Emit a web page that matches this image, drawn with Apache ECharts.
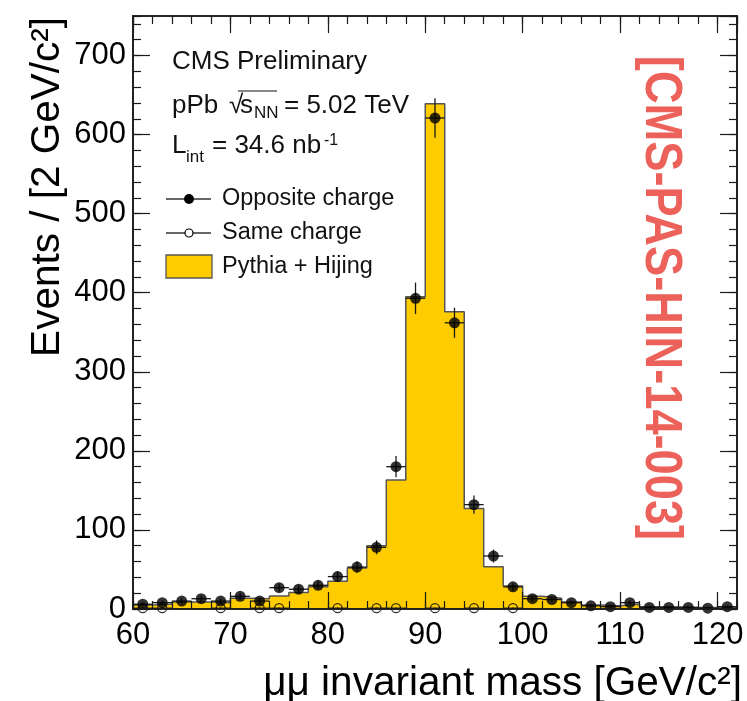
<!DOCTYPE html>
<html>
<head>
<meta charset="utf-8">
<script src="https://cdn.jsdelivr.net/npm/echarts@6/dist/echarts.min.js"></script>
<style>
  html, body { margin: 0; padding: 0; background: #fff; }
  #chart { width: 747px; height: 701px; }
</style>
</head>
<body>
<div id="chart"></div>
<script>
// Dimuon invariant-mass spectrum, 2 GeV/c^2 bins from 60 to 122 GeV/c^2.
const binWidth = 2;
const massBins = [61, 63, 65, 67, 69, 71, 73, 75, 77, 79, 81, 83, 85, 87, 89, 91,
                  93, 95, 97, 99, 101, 103, 105, 107, 109, 111, 113, 115, 117, 119, 121];

// Pythia + Hijing simulation (filled histogram)
const simValues = [5, 6, 9, 9, 8, 13.5, 13, 16.5, 21, 28, 35, 52, 80, 163, 395, 639,
                   376, 127, 53.5, 29, 16, 13.5, 9, 5, 4, 6, 3, 2.5, 2, 2, 2];

// Opposite-charge dimuon pairs (data)
const oppositeCharge = [6, 8, 10, 13, 10, 16, 10, 27, 25, 30, 41, 53, 78, 180, 393, 621,
                        362, 132, 67, 28, 13, 12, 8, 4, 3, 8, 2, 2, 2, 1, 3];

// Same-charge dimuon pairs (data); empty bins are not drawn
const sameCharge = [1, 1, 0, 0, 1, 0, 1, 1, 0, 0, 1, 0, 1, 1, 0, 1,
                    0, 1, 0, 1, 0, 0, 0, 0, 0, 0, 0, 0, 0, 0, 0];

const xTickLabels = [60, 70, 80, 90, 100, 110, 120];
const yTickLabels = [0, 100, 200, 300, 400, 500, 600, 700];

const xRange = [60, 122];
const yRange = [0, 750];

const FONT = "'Liberation Sans', Arial, Helvetica, sans-serif";
const INK = '#1a1a1a';
const FILL = '#ffcc00';

// Step outline of the simulated histogram, closed down to zero at both ends
function histogramPoints() {
  const pts = [[massBins[0] - binWidth / 2, 0]];
  massBins.forEach((c, i) => pts.push([c - binWidth / 2, simValues[i]]));
  const lastEdge = massBins[massBins.length - 1] + binWidth / 2;
  pts.push([lastEdge, simValues[simValues.length - 1]]);
  pts.push([lastEdge, 0]);
  return pts;
}

// Points with Poisson (sqrt N) uncertainty; zero bins skipped
function pointData(values) {
  return massBins
    .map((c, i) => [c, values[i], Math.sqrt(values[i])])
    .filter(d => d[1] > 0);
}

function errorBars(values, z) {
  return {
    type: 'custom',
    xAxisIndex: 0, yAxisIndex: 0,
    z: z,
    silent: true,
    data: pointData(values),
    encode: { x: 0, y: 1 },
    renderItem(params, api) {
      const x = api.value(0), y = api.value(1), e = api.value(2);
      const c = api.coord([x, y]);
      const l = api.coord([x - binWidth / 2, y]);
      const r = api.coord([x + binWidth / 2, y]);
      const t = api.coord([x, y + e]);
      const b = api.coord([x, Math.max(y - e, 0)]);
      const st = { stroke: INK, lineWidth: 1.3 };
      return {
        type: 'group',
        children: [
          { type: 'line', shape: { x1: l[0], y1: c[1], x2: r[0], y2: c[1] }, style: st },
          { type: 'line', shape: { x1: c[0], y1: t[1], x2: c[0], y2: b[1] }, style: st }
        ]
      };
    }
  };
}

function xAxis(position, interval, tickLen, showLabel) {
  return {
    type: 'value', position, min: xRange[0], max: xRange[1], interval, z: 10,
    axisLine: { show: true, onZero: false, lineStyle: { color: INK, width: 1.6 } },
    axisTick: { show: true, inside: true, length: tickLen, lineStyle: { color: INK, width: 1.2 } },
    axisLabel: {
      show: showLabel, showMaxLabel: false, margin: 11,
      fontFamily: FONT, fontSize: 31, color: '#000',
      formatter: v => (xTickLabels.includes(v) ? String(v) : '')
    },
    splitLine: { show: false }
  };
}

function yAxis(position, interval, tickLen, showLabel) {
  return {
    type: 'value', position, min: yRange[0], max: yRange[1], interval, z: 10,
    axisLine: { show: true, onZero: false, lineStyle: { color: INK, width: 1.6 } },
    axisTick: { show: true, inside: true, length: tickLen, lineStyle: { color: INK, width: 1.2 } },
    axisLabel: {
      show: showLabel, showMaxLabel: false, margin: 7,
      fontFamily: FONT, fontSize: 31, color: '#000',
      formatter: v => (yTickLabels.includes(v) ? String(v) : '')
    },
    splitLine: { show: false }
  };
}

// Plain text element; `opts` may carry transform props and style overrides
function txt(x, y, text, size, opts) {
  const o = opts || {};
  const el = {
    type: 'text', x, y, z: 20,
    style: Object.assign({
      text, fontFamily: FONT, fontSize: size, fill: '#111',
      align: 'left', verticalAlign: 'middle'
    }, o.style || {})
  };
  ['rotation', 'scaleX', 'scaleY'].forEach(k => { if (o[k] !== undefined) el[k] = o[k]; });
  return el;
}

const chart = echarts.init(document.getElementById('chart'), null, { renderer: 'canvas' });

chart.setOption({
  animation: false,
  backgroundColor: '#fff',
  grid: { left: 133, top: 16, width: 604, height: 593, containLabel: false, outerBoundsMode: 'none' },
  xAxis: [
    xAxis('bottom', 10, 17, true),
    xAxis('bottom', 2, 8, false),
    xAxis('top', 10, 17, false),
    xAxis('top', 2, 8, false)
  ],
  yAxis: [
    yAxis('left', 100, 17, true),
    yAxis('left', 20, 8, false),
    yAxis('right', 100, 17, false),
    yAxis('right', 20, 8, false)
  ],
  series: [
    {
      name: 'Pythia + Hijing',
      type: 'line', step: 'end',
      xAxisIndex: 0, yAxisIndex: 0,
      data: histogramPoints(),
      symbol: 'none', z: 2,
      lineStyle: { color: '#555', width: 1.5 },
      areaStyle: { color: FILL, opacity: 1 }
    },
    errorBars(oppositeCharge, 4),
    errorBars(sameCharge, 4),
    {
      name: 'Opposite charge',
      type: 'scatter', xAxisIndex: 0, yAxisIndex: 0, z: 5,
      data: pointData(oppositeCharge).map(d => [d[0], d[1]]),
      symbol: 'circle', symbolSize: 11,
      itemStyle: { color: '#000' }
    },
    {
      name: 'Same charge',
      type: 'scatter', xAxisIndex: 0, yAxisIndex: 0, z: 5,
      data: pointData(sameCharge).map(d => [d[0], d[1]]),
      symbol: 'circle', symbolSize: 9,
      itemStyle: { color: 'rgba(0,0,0,0)', borderColor: '#000', borderWidth: 1.3 }
    }
  ],
  graphic: [
    // Axis titles
    txt(48, 17, 'Events / [2 GeV/c²]', 40.5, { rotation: Math.PI / 2, style: { align: 'right', fill: '#000' } }),
    txt(742, 684, 'μμ invariant mass [GeV/c²]', 40.5, { style: { align: 'right', fill: '#000' } }),

    // Labels inside the frame
    txt(172, 62, 'CMS Preliminary', 26),
    txt(172, 106, 'pPb', 26),
    txt(229, 106, '√', 26),
    { type: 'line', z: 20, shape: { x1: 238, y1: 91, x2: 277, y2: 91 }, style: { stroke: '#111', lineWidth: 1.2 } },
    txt(240, 106, 's', 26),
    txt(254, 113, 'NN', 17),
    txt(284, 106, '= 5.02 TeV', 26),
    txt(172, 146, 'L', 26),
    txt(186, 157, 'int', 17),
    txt(212, 146, '= 34.6 nb', 26),
    txt(324, 141, '-1', 16),

    // Legend
    { type: 'line', z: 20, shape: { x1: 166, y1: 199, x2: 211, y2: 199 }, style: { stroke: '#333', lineWidth: 1.3 } },
    { type: 'circle', z: 21, shape: { cx: 189, cy: 199, r: 5 }, style: { fill: '#000' } },
    txt(222, 199, 'Opposite charge', 23.5),
    { type: 'line', z: 20, shape: { x1: 166, y1: 233, x2: 211, y2: 233 }, style: { stroke: '#333', lineWidth: 1.3 } },
    { type: 'circle', z: 21, shape: { cx: 189, cy: 233, r: 4 }, style: { fill: '#fff', stroke: '#000', lineWidth: 1.2 } },
    txt(222, 233, 'Same charge', 23.5),
    { type: 'rect', z: 20, shape: { x: 166, y: 255, width: 46, height: 23 }, style: { fill: FILL, stroke: '#555', lineWidth: 1.3 } },
    txt(222, 267, 'Pythia + Hijing', 23.5),

    // Document reference tag
    txt(660, 298, '[CMS-PAS-HIN-14-003]', 52, {
      rotation: -Math.PI / 2, scaleX: 0.87,
      style: { align: 'center', fontWeight: 'bold', fill: '#ec6159' }
    })
  ]
});
</script>
</body>
</html>
